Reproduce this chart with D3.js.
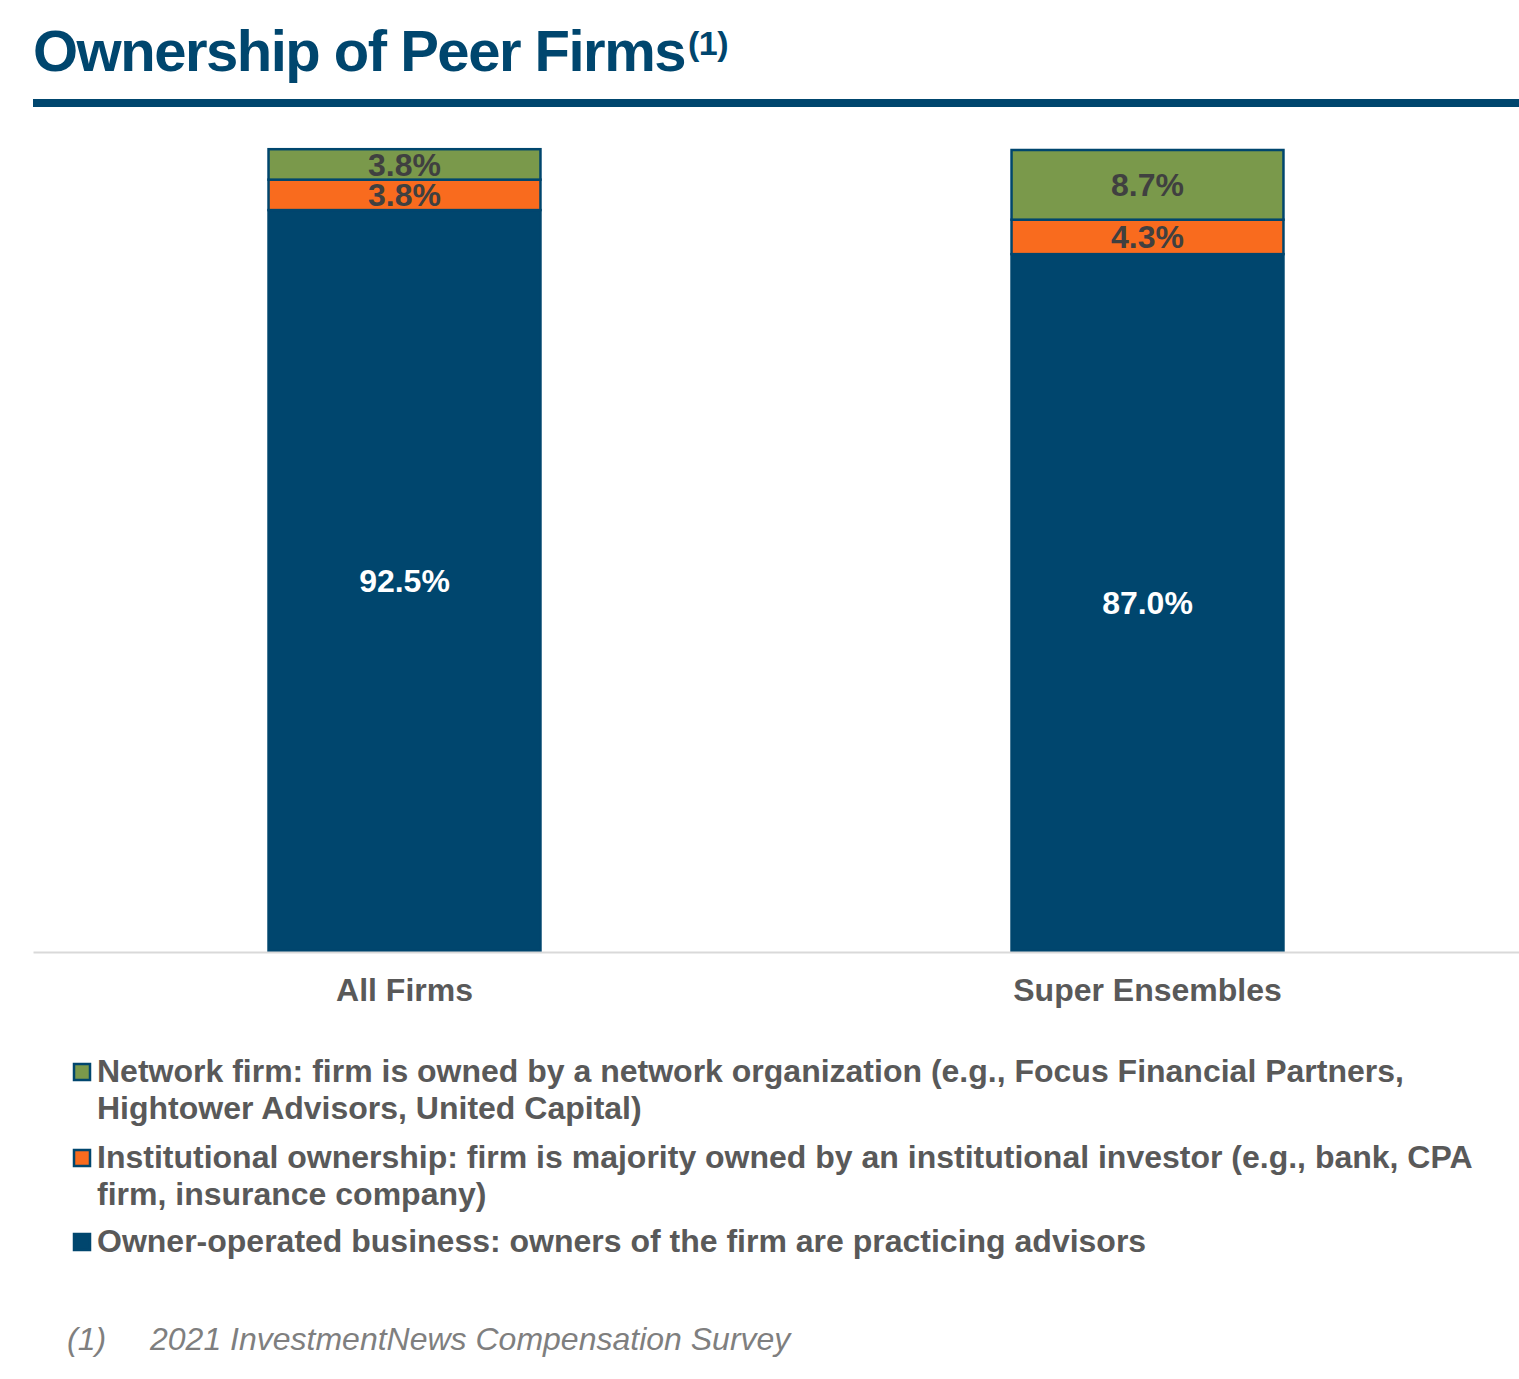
<!DOCTYPE html>
<html>
<head>
<meta charset="utf-8">
<script src="https://cdn.jsdelivr.net/npm/d3@7"></script>
<style>
  html, body { margin: 0; padding: 0; background: #fff; }
  svg { display: block; font-family: "Liberation Sans", Arial, sans-serif; }
</style>
</head>
<body>
<svg id="chart" width="1519" height="1379"></svg>
<script>
// ---- Data ----
const categories = ["All Firms", "Super Ensembles"];
const seriesNames = ["Owner-operated business", "Institutional ownership", "Network firm"];
const ownerOperated = [92.5, 87.0];
const institutional = [3.8, 4.3];
const network = [3.8, 8.7];
const legendLabels = [
  ["Network firm: firm is owned by a network organization (e.g., Focus Financial Partners,", "Hightower Advisors, United Capital)"],
  ["Institutional ownership: firm is majority owned by an institutional investor (e.g., bank, CPA", "firm, insurance company)"],
  ["Owner-operated business: owners of the firm are practicing advisors"]
];
const titleText = "Ownership of Peer Firms";
const footnoteMark = "(1)";
const footnoteText = "2021 InvestmentNews Compensation Survey";

// ---- Styles ----
const colors = {
  "Owner-operated business": "#00466E",
  "Institutional ownership": "#F96B1E",
  "Network firm": "#7A994B"
};
const labelColors = {
  "Owner-operated business": "#FFFFFF",
  "Institutional ownership": "#404040",
  "Network firm": "#404040"
};

const svg = d3.select("#chart");

// Title
const title = svg.append("text")
  .attr("x", 33).attr("y", 71)
  .attr("fill", "#00466E")
  .attr("font-size", 58).attr("font-weight", "bold");
title.append("tspan").attr("letter-spacing", -1.5).text(titleText);
title.append("tspan").attr("font-size", 34).attr("dy", -16).attr("dx", 3).attr("letter-spacing", -0.5).text("(1)");

svg.append("rect")
  .attr("x", 33).attr("y", 99).attr("width", 1486).attr("height", 8)
  .attr("fill", "#00466E");

// Chart
const table = categories.map((c, i) => ({
  category: c,
  "Owner-operated business": ownerOperated[i],
  "Institutional ownership": institutional[i],
  "Network firm": network[i]
}));
const stacked = d3.stack().keys(seriesNames)(table);

const x = d3.scaleBand().domain(categories).range([33, 1519]).padding(0);
const barW = x.bandwidth() * 0.366;
const y = d3.scaleLinear().domain([0, 100]).range([951, 150]);

const layers = svg.append("g").selectAll("g")
  .data(stacked).join("g")
  .attr("fill", d => colors[d.key]);

layers.selectAll("rect")
  .data(d => d.map(v => Object.assign(v, { key: d.key })))
  .join("rect")
  .attr("x", d => x(d.data.category) + (x.bandwidth() - barW) / 2)
  .attr("y", d => y(d[1]))
  .attr("width", barW)
  .attr("height", d => y(d[0]) - y(d[1]))
  .attr("stroke", "#00466E")
  .attr("stroke-width", 2.5);

layers.selectAll("text")
  .data(d => d)
  .join("text")
  .attr("x", d => x(d.data.category) + x.bandwidth() / 2)
  .attr("y", d => (y(d[0]) + y(d[1])) / 2)
  .attr("dy", "0.36em")
  .attr("text-anchor", "middle")
  .attr("font-size", 32).attr("font-weight", "bold")
  .attr("fill", d => labelColors[d.key])
  .text(d => (d[1] - d[0]).toFixed(1) + "%");

// Axis
const xAxis = svg.append("g").attr("transform", "translate(0,952)")
  .call(d3.axisBottom(x).tickSize(0).tickPadding(26));
xAxis.select(".domain").attr("stroke", "#D9D9D9").attr("stroke-width", 2);
xAxis.selectAll("text")
  .attr("font-size", 32).attr("font-weight", "bold")
  .attr("fill", "#595959")
  .attr("font-family", "'Liberation Sans', Arial, sans-serif");

// Legend
const legendItems = [
  { key: "Network firm", lines: legendLabels[0], y: 1082 },
  { key: "Institutional ownership", lines: legendLabels[1], y: 1168 },
  { key: "Owner-operated business", lines: legendLabels[2], y: 1252 }
];
const lg = svg.append("g");
legendItems.forEach(item => {
  lg.append("rect")
    .attr("x", 74).attr("y", item.y - 18).attr("width", 16).attr("height", 16)
    .attr("fill", colors[item.key])
    .attr("stroke", "#00466E").attr("stroke-width", 2.5);
  const t = lg.append("text")
    .attr("x", 97).attr("y", item.y)
    .attr("font-size", 32).attr("font-weight", "bold")
    .attr("fill", "#595959");
  item.lines.forEach((ln, j) => {
    t.append("tspan").attr("x", 97).attr("y", item.y + j * 36.5).text(ln);
  });
});

// Footnote
svg.append("text").attr("x", 67).attr("y", 1350)
  .attr("font-size", 32).attr("font-style", "italic").attr("fill", "#7F7F7F")
  .text(footnoteMark);
svg.append("text").attr("x", 150).attr("y", 1350)
  .attr("font-size", 32).attr("font-style", "italic").attr("fill", "#7F7F7F")
  .text(footnoteText);
</script>
</body>
</html>
